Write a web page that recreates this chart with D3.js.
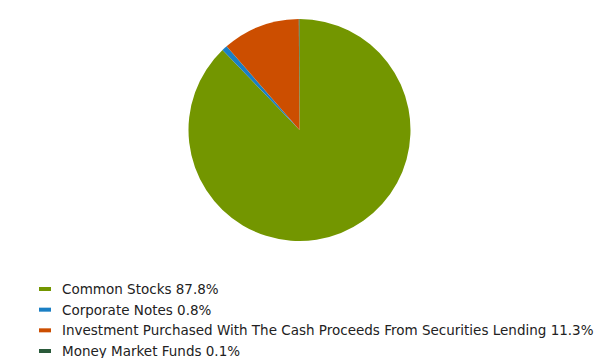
<!DOCTYPE html>
<html><head><meta charset="utf-8">
<script src="https://cdn.jsdelivr.net/npm/d3@7"></script>
<style>body{margin:0;background:#fff;}svg{display:block;}</style>
</head><body>
<svg id="c" width="600" height="358"></svg>
<script>
const categories = ["Common Stocks", "Corporate Notes", "Investment Purchased With The Cash Proceeds From Securities Lending", "Money Market Funds"];
const values = [87.8, 0.8, 11.3, 0.1];
const colors = ["#739600", "#1a7fc4", "#cc4e00", "#2a5a3a"];

const svg = d3.select("#c");
const cx = 299.5, cy = 130, r = 111;
const pie = d3.pie().sort(null).value(d => d.v);
const arcs = pie(categories.map((c, i) => ({c, v: values[i], col: colors[i]})));
const arc = d3.arc().innerRadius(0).outerRadius(r);
svg.append("g").attr("transform", `translate(${cx},${cy})`)
  .selectAll("path").data(arcs).join("path")
  .attr("d", arc).attr("fill", d => d.data.col);

const y = d3.scalePoint().domain(categories).range([289, 351]);
const lg = svg.append("g");
const items = lg.selectAll("g").data(categories).join("g")
  .attr("transform", d => `translate(0,${y(d)})`);
items.append("rect").attr("x", 39).attr("y", -2).attr("width", 12).attr("height", 4)
  .attr("fill", (d, i) => colors[i]);
items.append("text").attr("x", 62).attr("y", 5)
  .attr("font-family", "DejaVu Sans").attr("font-size", 13.5).attr("fill", "#222")
  .text((d, i) => `${d} ${values[i]}%`);
</script>
</body></html>
